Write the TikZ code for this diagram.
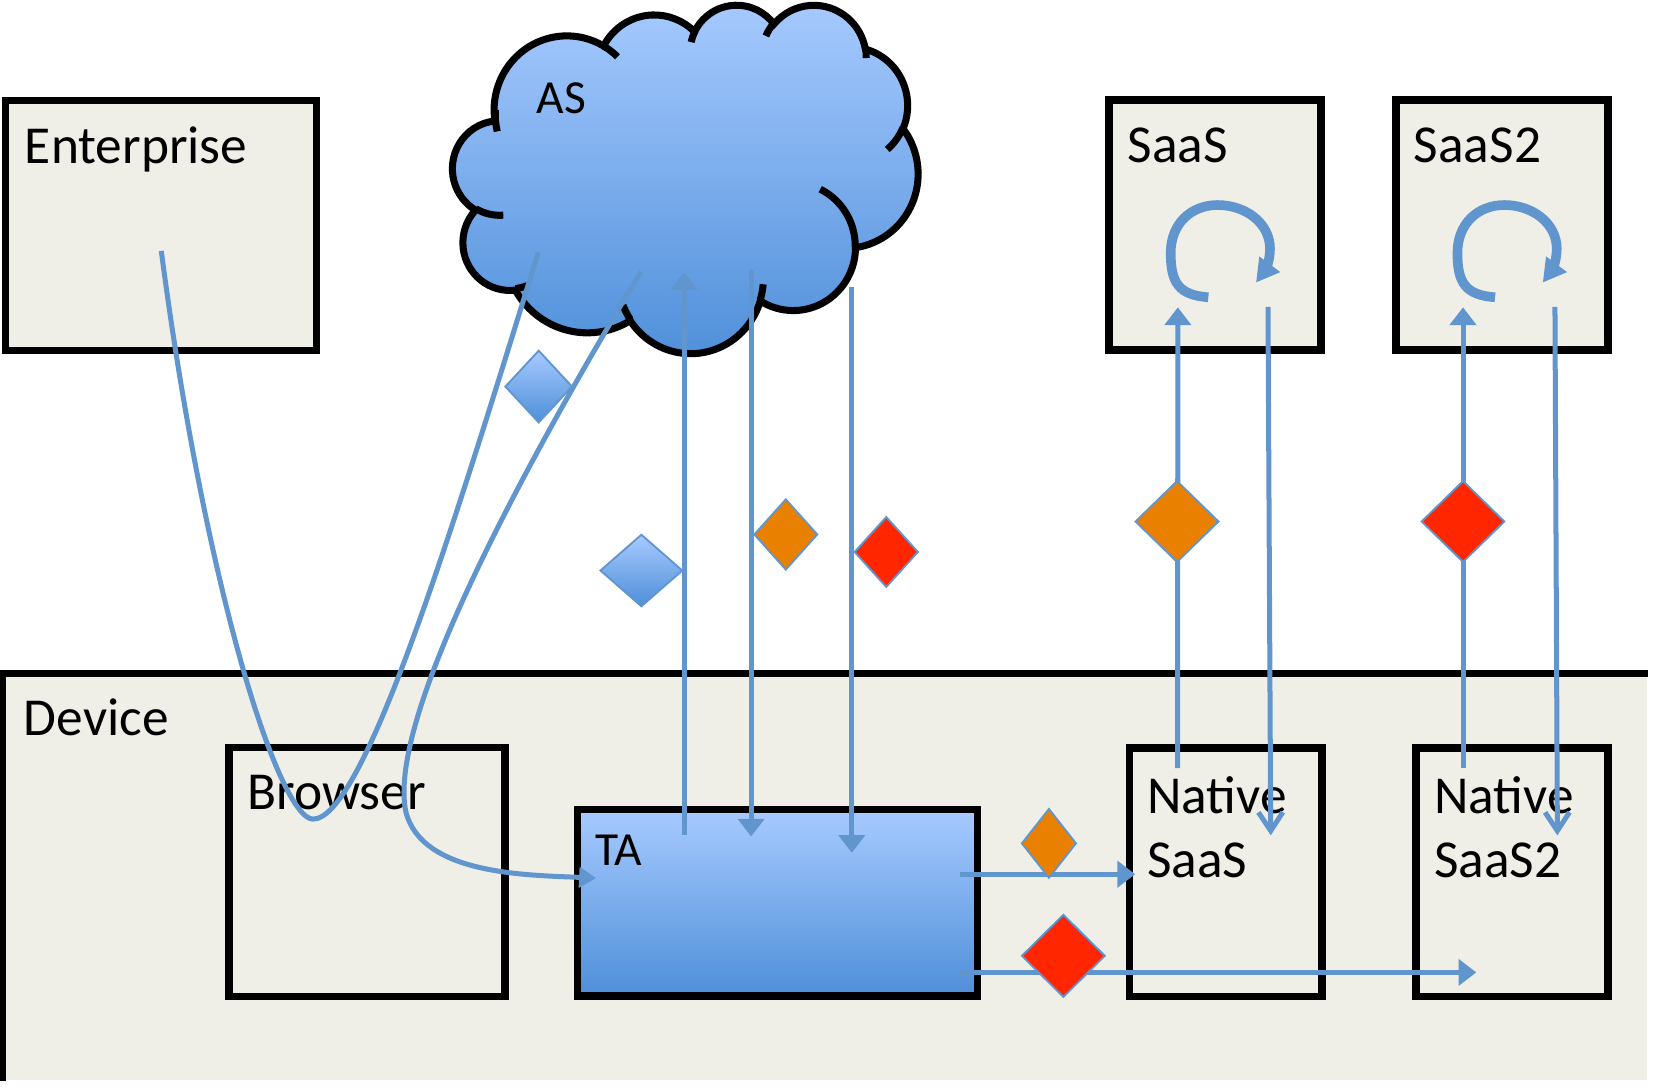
\documentclass[tikz,border=0pt]{standalone}
\usepackage{fontspec}
\setmainfont{Carlito}
\usetikzlibrary{arrows.meta,shapes.geometric}

\definecolor{boxfill}{RGB}{239,239,231}
\definecolor{lineblue}{RGB}{97,149,206}
\definecolor{skytop}{RGB}{167,202,255}
\definecolor{skybot}{RGB}{78,143,217}
\definecolor{tokorange}{RGB}{234,128,0}
\definecolor{tokred}{RGB}{255,38,0}

% scale of the cloud outline (shape units -> cm)
\newcommand\cloudsx{0.010206cm}
\newcommand\cloudsy{0.00764cm}
% elliptical arc from the current point: radii w, h, start angle and sweep
% given as visual angles measured clockwise on screen
\newcommand\cloudarc[4]{%
  arc[x radius={#1*\cloudsx}, y radius={#2*\cloudsy},
      start angle={-atan2(#1*sin(#3),#2*cos(#3))},
      delta angle={-mod(atan2(#1*sin(#3+#4),#2*cos(#3+#4))-atan2(#1*sin(#3),#2*cos(#3))+720,360)}]}

\tikzset{
  frame/.style={draw=black, line width=2pt},
  panel/.style 2 args={frame, fill=boxfill, inner sep=0pt,
    minimum width=#1*0.01cm, minimum height=#2*0.01cm},
  lbl/.style={inner sep=0pt, font=\fontsize{14.4}{17.2}\selectfont},
  lblsmall/.style={inner sep=0pt, font=\fontsize{12.8}{15}\selectfont},
  link/.style={draw=lineblue, line width=1.35pt},
  loopline/.style={draw=lineblue, line width=2.6pt, -{Triangle[width=6.6pt,length=6.2pt]}},
  barb/.style={-{Straight Barb[length=5pt,width=6.6pt]}},
  gem/.style 2 args={diamond, inner sep=0pt, draw=lineblue, line width=0.5pt,
    minimum width=#1*0.01cm, minimum height=#2*0.01cm},
  bluegem/.style={top color=skytop, bottom color=skybot},
  >={Triangle[width=7pt,length=4.8pt]}
}

\begin{document}
\begin{tikzpicture}[x=0.01cm, y=-0.01cm]
\useasboundingbox (0,0) rectangle (1568,1031);

% device area: its right and bottom edges run off the page
\node[fill=boxfill, inner sep=0pt, minimum width=15.585cm, minimum height=3.85cm]
  (dev) at (782.75,832) {};
\draw[frame] (dev.south west) -- (dev.north west) -- (dev.north east);

% boxes
\node[panel={295}{237.2}] (ent) at (152.5,214.1) {};
\node[panel={201}{237}] (saas) at (1152.5,213.5) {};
\node[panel={201.3}{237}] (saas2) at (1424.7,213.5) {};
\node[panel={261.6}{236.6}] (brw) at (348.2,827.2) {};
\node[panel={379}{177.1}, top color=skytop, bottom color=skybot] (ta) at (737.5,856.25) {};
\node[panel={182.4}{236}] (nsaas) at (1162.8,827.5) {};
\node[panel={182.3}{236}] (nsaas2) at (1434.2,827.5) {};

% cloud
\begin{scope}[shift={(429.5,3.9)}, x=0.010206cm, y=-0.00764cm]
  \coordinate (as) at (216,216);
  \path[draw=black, line width=1.9pt, top color=skytop, bottom color=skybot] (39,143.7)
    \cloudarc{67.53}{91.90}{-190.4875}{123.7805}
    \cloudarc{53.33}{72.67}{-144.1024}{89.9452}
    \cloudarc{43.65}{59.45}{-145.8079}{99.7230}
    \cloudarc{48.57}{65.95}{-130.9861}{117.2417}
    \cloudarc{53.33}{72.73}{-78.7089}{109.0269}
    \cloudarc{67.75}{92.20}{-46.2673}{130.2690}
    \cloudarc{57.85}{78.67}{0.6250}{114.0333}
    \cloudarc{67.52}{92.15}{22.4516}{115.1726}
    \cloudarc{77.20}{105.43}{66.2426}{75.7110}
    \cloudarc{43.60}{59.18}{-274.9421}{146.7356}
    \cloudarc{43.45}{59.45}{-246.8285}{152.5189}
    -- cycle;
  \begin{scope}[draw=black, line width=1.9pt]
    \draw (46.93,261.77) \cloudarc{43.45}{59.45}{86.7420}{26.4295};
    \draw (69.28,348.99) \cloudarc{43.60}{59.18}{73.6105}{11.4475};
    \draw (164.78,390.90) \cloudarc{67.52}{92.15}{137.6242}{14.0811};
    \draw (288.27,347.51) \cloudarc{67.52}{92.15}{6.4533}{15.9984};
    \draw (341.29,229.54) \cloudarc{57.85}{78.67}{-70.2924}{70.9174};
    \draw (417.98,153.54) \cloudarc{53.33}{72.73}{30.3180}{27.7515};
    \draw (383.24,54.26) \cloudarc{48.57}{65.95}{-13.7443}{14.8589};
    \draw (290.78,39.52) \cloudarc{48.57}{65.95}{-149.1815}{18.1954};
    \draw (221.41,47.20) \cloudarc{43.65}{59.45}{-163.4943}{17.6864};
    \draw (140.00,51.92) \cloudarc{67.53}{91.90}{-66.7070}{12.3194};
    \draw (41.27,157.89) \cloudarc{67.53}{91.90}{162.0463}{22.7074};
  \end{scope}
\end{scope}

% labels
\node[lbl, anchor=base west] (tent) at (23,155) {Enterprise};
\node[lbl, anchor=base west] (tsaas) at (1069,154.5) {SaaS};
\node[lbl, anchor=base west] (tsaas2) at (1340.5,154.5) {SaaS2};
\node[lblsmall, anchor=base west] (tas) at (508.5,107.5) {AS};
\node[lbl, anchor=base west] (tdev) at (22,698) {Device};
\node[lbl, anchor=base west] (tbrw) at (234,767.5) {Browser};
\node[lblsmall, anchor=base west] (tta) at (564,821) {TA};
\node[lbl, anchor=north west, align=left] (tns) at (1087.5,736) {Native\\SaaS};
\node[lbl, anchor=north west, align=left] (tns2) at (1359.8,736) {Native\\SaaS2};

% connector end points
\coordinate (entA) at (153,238);
\coordinate (asA) at (510.6,239.3);
\coordinate (asB) at (608,257.7);
\coordinate (taIn) at (565.5,833);
\coordinate (taUp) at (649,792);
\coordinate (asUp) at (649,258);
\coordinate (asD1) at (712.5,256);
\coordinate (taD1) at (712.5,793.6);
\coordinate (asD2) at (808,272.5);
\coordinate (taD2) at (808,809);
\coordinate (taR1) at (911,829.3);
\coordinate (nsIn) at (1076.8,829.3);
\coordinate (taR2) at (911,922.4);
\coordinate (ns2In) at (1400.4,922.4);
\coordinate (nsUp) at (1117,728.7);
\coordinate (saasIn) at (1117.3,291.5);
\coordinate (saasOut) at (1202.8,291);
\coordinate (nsDn) at (1205.4,792.4);
\coordinate (ns2Up) at (1387.8,728.7);
\coordinate (saas2In) at (1387.8,291.5);
\coordinate (saas2Out) at (1475,291);
\coordinate (ns2Dn) at (1477.3,792.4);

% connectors
\draw[link] (entA) .. controls (195,560) and (265,777) .. (297,777)
  .. controls (345,777) and (430,500) .. (asA);
\draw[link, -{Triangle[width=5.4pt,length=4.6pt]}] (asB) .. controls (450,520) and (370,700) .. (385,770)
  .. controls (400,830) and (500,830) .. (taIn);
\draw[link, ->] (taUp) -- (asUp);
\draw[link, ->] (asD1) -- (taD1);
\draw[link, ->] (asD2) -- (taD2);
\draw[link, ->] (taR1) -- (nsIn);
\draw[link, ->] (taR2) -- (ns2In);
\draw[link, ->] (nsUp) -- (saasIn);
\draw[link, barb] (saasOut) -- (nsDn);
\draw[link, ->] (ns2Up) -- (saas2In);
\draw[link, barb] (saas2Out) -- (ns2Dn);

% processing loops inside the SaaS boxes
\foreach \dx/\nm in {0/loopA, 272/loopB} {
  \begin{scope}[shift={(\dx,0)}]
    \coordinate (\nm) at (1155,240);
    \draw[loopline] (1146.2,282) .. controls (1118,280) and (1110.5,268) .. (1110.5,240)
      .. controls (1110.5,212) and (1130,194.5) .. (1155,194.5)
      .. controls (1182,194.5) and (1204.7,212) .. (1204.7,236)
      .. controls (1204.7,249) and (1199,258) .. (1191.4,268.1);
  \end{scope}
}

% tokens
\node[gem={64}{68.8}, bluegem] (k1) at (511,366.7) {};
\node[gem={78.4}{68.6}, bluegem] (k2) at (608.4,541.2) {};
\node[gem={60.4}{67.4}, fill=tokorange] (k3) at (745.4,507) {};
\node[gem={60.8}{67}, fill=tokred] (k4) at (840.7,523.6) {};
\node[gem={79.4}{77.4}, fill=tokorange] (k5) at (1116.5,494.7) {};
\node[gem={79.2}{77.4}, fill=tokred] (k6) at (1387.8,494.7) {};
\node[gem={52}{66}, fill=tokorange] (k7) at (995,800) {};
\node[gem={79.4}{78.6}, fill=tokred] (k8) at (1008.7,906.7) {};
\end{tikzpicture}
\end{document}
